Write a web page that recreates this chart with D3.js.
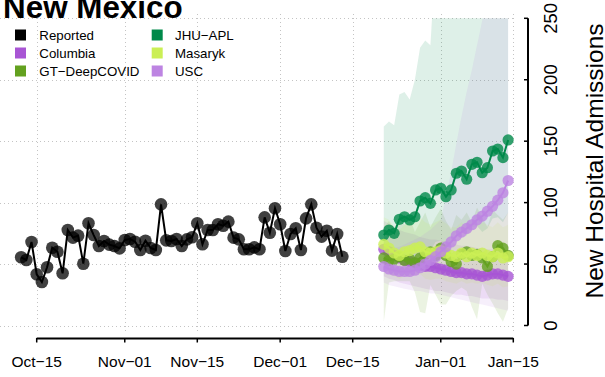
<!DOCTYPE html>
<html><head><meta charset="utf-8">
<script src="https://cdn.jsdelivr.net/npm/d3@7"></script>
<style>body{margin:0;background:#fff}svg{display:block;font-family:"Liberation Sans",Arial,sans-serif}</style>
</head><body><svg id="c" width="605" height="377"></svg>
<script>
// ---------- data ----------
const title = "New Mexico";
const yTitle = "New Hospital Admissions";
const reportedStart = "2020-10-12";
const reported = [55.5,53.3,68,41.7,35.4,47.4,63.3,60,42.5,77.7,71.5,73.1,50.3,83.2,73.6,64.7,68.8,65.8,64.7,62.8,
  69.6,70.4,68.2,61.4,69,63.1,61.4,98.6,69.3,68.8,70.4,64.7,70.1,71.8,83.2,66.1,77.7,77.7,82.4,81.2,
  84.5,71.5,70.1,62,62,63.6,62,88,75.5,95.4,82.4,60.6,74.5,79.1,61.4,87.2,98.6,79.6,72.3,77.1,60.9,74.5,56];
const forecastStart = "2020-12-21";
const modelNames = ["Columbia","GT\u2212DeepCOVID","JHU\u2212APL","Masaryk","USC"];
const modelColors = ["#a855d4","#63a11f","#00894a","#cbef55","#bd84e2"];
const columbia   = [62,60,57,55,53,52,51,49,48,48,47,46,45,44,43,43,42,42,41,40,41,42,42,41,40];
const columbiaLo = [40,38,37,35,34,33,32,31,30,29,28,28,27,26,25,25,24,24,23,22,22,22,21,21,20];
const columbiaHi = [85,83,80,78,76,75,74,72,71,70,70,69,68,67,66,65,65,64,63,63,62,62,62,61,61];
const gt   = [55,53,54,56,53,54,51,55,58,60,57,63,57,52,50,58,60,57,58,55,48,56,65,63,57];
const gtLo = [3,35,36,36,36,36,27,11,10,33,25,17,17,24,28,31,28,15,5,34,25,18,10,3,14];
const gtHi = [80,85,78,90,82,88,76,84,92,80,88,95,85,78,90,86,92,84,96,88,80,94,90,86,92];
const jhu   = [73.6,77.7,75,86.4,88.5,85.9,88.5,101.3,104,99.4,110.3,111.7,104.8,110.3,123.9,125.7,119,131.2,132.8,124.3,128.4,142,143.6,136.6,151];
const jhuLo = [45,48,46,53,55,53,55,62,64,61,68,69,64,68,76,77,73,80,81,76,79,87,88,84,92];
const jhuHi = [162,166,163,188,190,184,200,226,232,228,300,320,340,360,380,400,420,440,460,480,500,520,540,560,580];
const masaryk   = [66,63,59,57,60,61,63,64,60,59,60,61,59,57,56,59,56,59,57,59,57,56,59,55,56];
const masarykLo = [45,42,40,38,40,40,41,42,38,37,38,38,36,35,34,36,34,35,34,35,33,32,34,31,32];
const masarykHi = [88,86,80,78,82,84,86,88,84,82,84,86,83,80,80,84,80,84,82,84,82,80,84,80,82];
const usc   = [48,46,45,44,44,44,45,47,50,53,56,60,64,68,73,76,79,82,86,89,93,97,102,108,118];
const uscLo = [35,33,32,31,30,29,28,28,27,26,26,25,24,23,22,21,20,19,18,17,16,15,14,13,12];
const uscHi = [62,62,63,64,66,68,70,72,75,78,82,86,105,125,148,170,190,208,228,248,270,290,310,330,350];
const xTicks = ["2020-10-15","2020-11-01","2020-11-15","2020-12-01","2020-12-15","2021-01-01","2021-01-15"];
const xTickLabels = ["Oct\u221215","Nov\u221201","Nov\u221215","Dec\u221201","Dec\u221215","Jan\u221201","Jan\u221215"];
const yTicks = [0,50,100,150,200,250];

// ---------- build ----------
const parse = d3.utcParse("%Y-%m-%d");
const dayMs = 864e5;
function series(start, vals){ const s = parse(start); return vals.map((v,i)=>({d:new Date(+s+i*dayMs), v})); }
function band(start, lo, hi){ const s = parse(start); return lo.map((v,i)=>({d:new Date(+s+i*dayMs), lo:v, hi:hi[i]})); }

const models = [
  {pts: series(forecastStart, columbia), band: band(forecastStart, columbiaLo, columbiaHi)},
  {pts: series(forecastStart, gt), band: band(forecastStart, gtLo, gtHi)},
  {pts: series(forecastStart, jhu), band: band(forecastStart, jhuLo, jhuHi)},
  {pts: series(forecastStart, masaryk), band: band(forecastStart, masarykLo, masarykHi)},
  {pts: series(forecastStart, usc), band: band(forecastStart, uscLo, uscHi)}
];
const rep = series(reportedStart, reported);

const svg = d3.select("#c");
const x = d3.scaleUtc().domain([parse("2020-10-15"), parse("2021-01-15")]).range([36.7, 513.3]);
const y = d3.scaleLinear().domain([0,250]).range([325.5, 18.3]);

svg.append("defs").append("clipPath").attr("id","clip")
  .append("rect").attr("x",0).attr("y",y(250)).attr("width",515).attr("height",y(0)-y(250)+8);

// grid
const grid = svg.append("g").attr("stroke","#c4c4c4").attr("stroke-width",1).attr("stroke-dasharray","1,3");
yTicks.forEach(t => grid.append("line").attr("x1",0).attr("x2",515).attr("y1",Math.round(y(t))+0.5).attr("y2",Math.round(y(t))+0.5));
xTicks.forEach(t => grid.append("line").attr("x1",Math.round(x(parse(t)))+0.5).attr("x2",Math.round(x(parse(t)))+0.5).attr("y1",14).attr("y2",333));

// bands
const area = d3.area().x(d=>x(d.d)).y0(d=>y(d.lo)).y1(d=>y(d.hi));
const gb = svg.append("g").attr("clip-path","url(#clip)");
models.forEach((m,i) => gb.append("path").datum(m.band).attr("d",area).attr("fill",modelColors[i]).attr("fill-opacity",0.13));

// reported
const line = d3.line().x(d=>x(d.d)).y(d=>y(d.v));
svg.append("path").datum(rep).attr("d",line).attr("fill","none").attr("stroke","#000").attr("stroke-width",2);
svg.append("g").selectAll("circle").data(rep).join("circle")
  .attr("cx",d=>x(d.d)).attr("cy",d=>y(d.v)).attr("r",6.3).attr("fill","#000").attr("fill-opacity",0.75);

// forecasts
models.forEach((m,i) => {
  const g = svg.append("g");
  g.append("path").datum(m.pts).attr("d",line).attr("fill","none").attr("stroke",modelColors[i]).attr("stroke-width",2);
  g.selectAll("circle").data(m.pts).join("circle")
    .attr("cx",d=>x(d.d)).attr("cy",d=>y(d.v)).attr("r",5.6).attr("fill",modelColors[i]).attr("fill-opacity",0.8);
});

// x axis
const xa = svg.append("g");
xa.append("line").attr("x1",x(parse(xTicks[0]))).attr("x2",x(parse(xTicks[xTicks.length-1]))).attr("y1",338.5).attr("y2",338.5).attr("stroke","#000").attr("stroke-width",2);
xTicks.forEach((t,i) => {
  const xx = x(parse(t));
  xa.append("line").attr("x1",xx).attr("x2",xx).attr("y1",338).attr("y2",342.5).attr("stroke","#000").attr("stroke-width",1.5);
  xa.append("text").attr("x",xx).attr("y",367.3).attr("text-anchor","middle").attr("font-size","15.5px").attr("fill","#000").text(xTickLabels[i]);
});

// y axis (right)
const ya = svg.append("g");
const axX = 528;
ya.append("line").attr("x1",axX).attr("x2",axX).attr("y1",y(250)).attr("y2",y(0)).attr("stroke","#000").attr("stroke-width",2);
yTicks.forEach(t => {
  ya.append("line").attr("x1",axX-4).attr("x2",axX).attr("y1",y(t)).attr("y2",y(t)).attr("stroke","#000").attr("stroke-width",1.5);
  ya.append("text").attr("transform",`translate(557,${y(t)}) rotate(-90)`).attr("text-anchor","middle")
    .attr("font-size","18.5px").attr("fill","#000").text(t);
});
svg.append("text").attr("transform","translate(603,161) rotate(-90)").attr("text-anchor","middle")
  .attr("font-size","24.5px").attr("fill","#000").text(yTitle);

// title
svg.append("text").attr("x",3).attr("y",18.3).attr("font-size","31.4px").attr("font-weight","bold").attr("fill","#000").text(title);

// legend
const legNames = ["Reported"].concat(modelNames);
const legColors = ["#000000"].concat(modelColors);
const rows = [35,53,71];
legNames.forEach((n,i) => {
  const col = Math.floor(i/3), row = i%3;
  const sx = col===0 ? 15 : 151.7, tx = col===0 ? 39.3 : 175;
  svg.append("rect").attr("x",sx).attr("y",rows[row]-5.5).attr("width",11).attr("height",11).attr("fill",legColors[i]);
  svg.append("text").attr("x",tx).attr("y",rows[row]+4.7).attr("font-size","13.3px").attr("fill","#000").text(n);
});
</script></body></html>
